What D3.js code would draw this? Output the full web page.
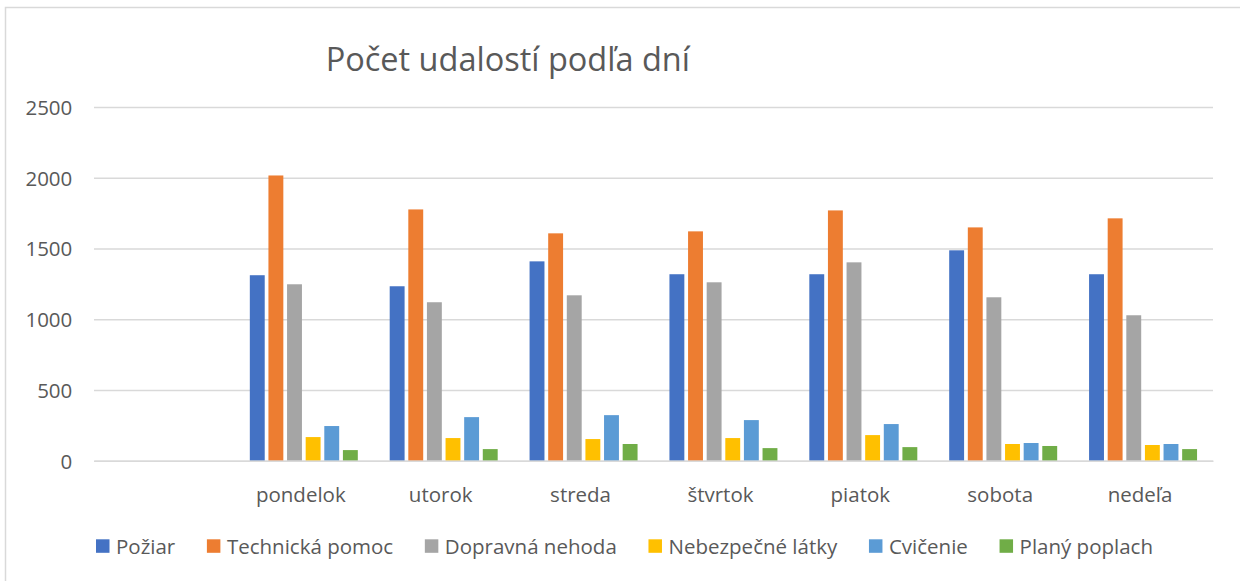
<!DOCTYPE html>
<html>
<head>
<meta charset="utf-8">
<script src="https://cdn.jsdelivr.net/npm/d3@7"></script>
<style>
  html, body { margin: 0; padding: 0; background: #ffffff; }
  svg { display: block; }
  text { font-family: "Open Sans", "Noto Sans", sans-serif; fill: #595959; }
</style>
</head>
<body>
<svg id="chart" width="1240" height="581"></svg>
<script>
// ---- data ----
const title = "Počet udalostí podľa dní";
const days = ["pondelok", "utorok", "streda", "štvrtok", "piatok", "sobota", "nedeľa"];
const seriesNames = ["Požiar", "Technická pomoc", "Dopravná nehoda", "Nebezpečné látky", "Cvičenie", "Planý poplach"];
const poziar         = [1311, 1233, 1409, 1318, 1318, 1487, 1318];
const technickaPomoc = [2016, 1776, 1607, 1621, 1769, 1649, 1713];
const dopravnaNehoda = [1247, 1120, 1169, 1261, 1402, 1155, 1028];
const nebezpecneLatky= [ 167,  160,  153,  160,  181,  118,  111];
const cvicenie       = [ 245,  308,  322,  287,  259,  125,  118];
const planyPoplach   = [  75,   82,  118,   89,   96,  104,   82];
const yTicks = [0, 500, 1000, 1500, 2000, 2500];
const colors = ["#4472C4", "#ED7D31", "#A5A5A5", "#FFC000", "#5B9BD5", "#70AD47"];

const seriesValues = [poziar, technickaPomoc, dopravnaNehoda, nebezpecneLatky, cvicenie, planyPoplach];
// the source sheet has one blank category before the weekdays
const categories = [""].concat(days);

const svg = d3.select("#chart");

// chart border
svg.append("rect")
  .attr("x", 5.5).attr("y", 7.5)
  .attr("width", 1260).attr("height", 600)
  .attr("fill", "#ffffff")
  .attr("stroke", "#d9d9d9").attr("stroke-width", 1.5);

const plotLeft = 94, plotRight = 1213, plotTop = 107, plotBottom = 460.7;

const x0 = d3.scaleBand().domain(categories).range([plotLeft, plotRight])
  .paddingInner(0.228).paddingOuter(0.114);
const x1 = d3.scaleBand().domain(seriesNames).range([0, x0.bandwidth()])
  .paddingInner(0.2).paddingOuter(0);
const y = d3.scaleLinear().domain([0, 2500]).range([plotBottom, plotTop]);

// gridlines + y labels
const yAxis = d3.axisLeft(y).tickValues(yTicks).tickFormat(d3.format("d"))
  .tickSize(-(plotRight - plotLeft));
const gy = svg.append("g").attr("transform", `translate(${plotLeft},0)`).call(yAxis);
gy.select(".domain").remove();
gy.selectAll(".tick line").attr("stroke", "#d9d9d9").attr("stroke-width", 1.5);
gy.selectAll(".tick text")
  .attr("font-size", "20.5px")
  .attr("font-family", "'Open Sans', sans-serif")
  .attr("fill", "#595959")
  .attr("x", 72.3 - plotLeft)
  .attr("dy", "0.36em")
  .attr("text-anchor", "end");

// bars
const dayData = days.map((d, i) => ({ day: d, vals: seriesNames.map((s, j) => ({ s, j, v: seriesValues[j][i] })) }));
const groups = svg.append("g").selectAll("g").data(dayData).join("g")
  .attr("transform", d => `translate(${x0(d.day)},0)`);
groups.selectAll("rect").data(d => d.vals).join("rect")
  .attr("x", d => x1(d.s))
  .attr("width", x1.bandwidth())
  .attr("y", d => y(d.v))
  .attr("height", d => y(0) - y(d.v))
  .attr("fill", d => colors[d.j]);

// x axis
const xAxis = d3.axisBottom(x0).tickSize(0).tickPadding(0);
const gx = svg.append("g").attr("transform", `translate(0,${plotBottom})`).call(xAxis);
gx.select(".domain").attr("stroke", "#d9d9d9").attr("stroke-width", 1.5);
gx.selectAll(".tick text")
  .attr("font-size", "20.5px")
  .attr("font-family", "'Open Sans', sans-serif")
  .attr("fill", "#595959")
  .attr("dy", null)
  .attr("y", 502 - plotBottom)
  .attr("dx", -3);

// title
svg.append("text")
  .attr("x", 507.8).attr("y", 70.7)
  .attr("text-anchor", "middle")
  .attr("font-size", "32.5px")
  .attr("fill", "#595959")
  .text(title);

// legend
const legendLeft = 96, legendRight = 1153;
const legend = svg.append("g");
const items = legend.selectAll("g").data(seriesNames).join("g");
items.append("rect").attr("width", 13.5).attr("height", 13.5).attr("y", 539.3)
  .attr("fill", (d, i) => colors[i]);
items.append("text").attr("x", 20).attr("y", 553.5)
  .attr("font-size", "20.5px").text(d => d);
const widths = [];
items.each(function () { widths.push(20 + d3.select(this).select("text").node().getComputedTextLength()); });
const gap = (legendRight - legendLeft - d3.sum(widths)) / (widths.length - 1);
let cx = legendLeft;
items.each(function (d, i) {
  d3.select(this).attr("transform", `translate(${cx},0)`);
  cx += widths[i] + gap;
});
</script>
</body>
</html>
